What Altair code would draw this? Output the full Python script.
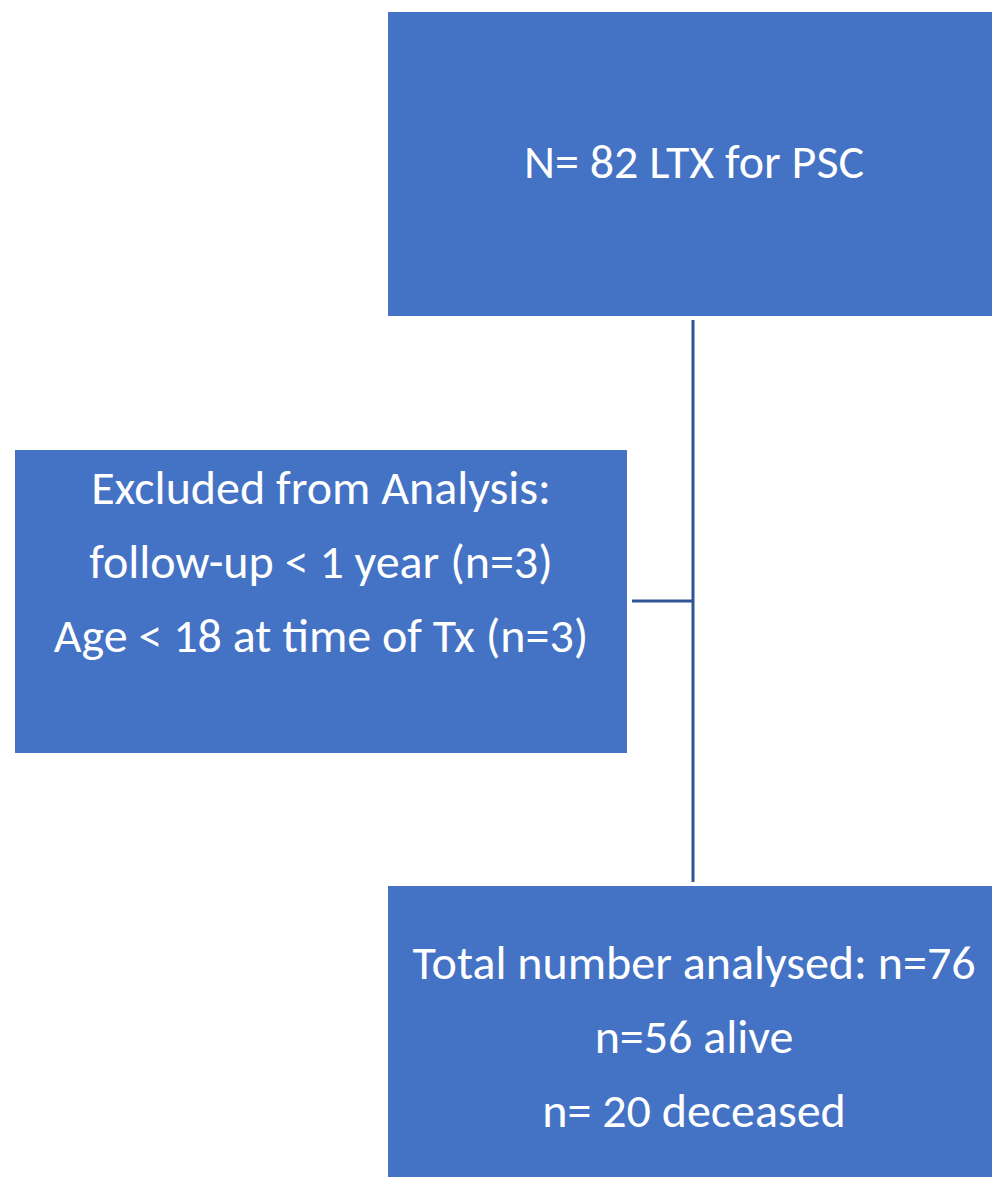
import altair as alt
import pandas as pd

# Flowchart content
box_ids = ["top", "excluded", "analysed"]
box_x1 = [388, 15, 388]
box_x2 = [1000, 627, 1000]
box_y1 = [12, 450, 886]
box_y2 = [316, 753, 1185]

text_lines = [
    "N= 82 LTX for PSC",
    "Excluded from Analysis:",
    "follow-up < 1 year (n=3)",
    "Age < 18 at time of Tx (n=3)",
    "Total number analysed: n=76",
    "n=56 alive",
    "n= 20 deceased",
]
text_x = [694, 321, 321, 321, 694, 694, 694]
text_y = [164, 490, 564, 638, 965, 1039, 1113]

conn_x1 = [693, 632]
conn_x2 = [693, 693]
conn_y1 = [320, 601]
conn_y2 = [882, 601]

W, H = 984, 1169
OFF = 8
xs = alt.Scale(domain=[OFF, OFF + W], nice=False, zero=False)
ys = alt.Scale(domain=[OFF, OFF + H], nice=False, zero=False, reverse=True)

boxes = pd.DataFrame({"id": box_ids, "x1": box_x1, "x2": box_x2, "y1": box_y1, "y2": box_y2})
texts = pd.DataFrame({"t": text_lines, "x": text_x, "y": text_y})
conns = pd.DataFrame({"x1": conn_x1, "x2": conn_x2, "y1": conn_y1, "y2": conn_y2})

rects = alt.Chart(boxes).mark_rect(color="#4472C4", clip=True).encode(
    x=alt.X("x1:Q", scale=xs, axis=None),
    x2="x2:Q",
    y=alt.Y("y1:Q", scale=ys, axis=None),
    y2="y2:Q",
)

rules = alt.Chart(conns).mark_rule(color="#2F5597", strokeWidth=3).encode(
    x=alt.X("x1:Q", scale=xs, axis=None),
    x2="x2:Q",
    y=alt.Y("y1:Q", scale=ys, axis=None),
    y2="y2:Q",
)

labels = alt.Chart(texts).mark_text(
    color="white", font="Carlito, Calibri, Lato", fontSize=48,
    align="center", baseline="middle"
).encode(
    x=alt.X("x:Q", scale=xs, axis=None),
    y=alt.Y("y:Q", scale=ys, axis=None),
    text="t:N",
)

chart = alt.layer(rects, rules, labels).properties(
    width=W, height=H, padding=0
).configure_view(stroke=None)

chart.save("out.html", embed_options={"renderer": "svg", "actions": False})
